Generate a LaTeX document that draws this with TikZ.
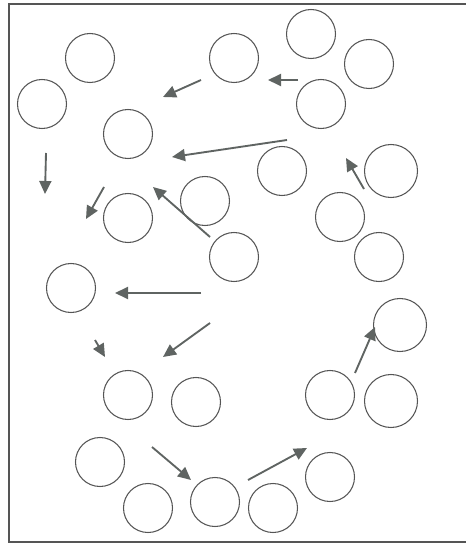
\documentclass[tikz,border=0pt]{standalone}
\usepackage{tikz}
\usetikzlibrary{arrows.meta}
\definecolor{InkGray}{RGB}{85, 85, 85}
\definecolor{ArrowGray}{RGB}{95, 100, 98}

\begin{document}
\begin{tikzpicture}[x=0.03cm, y=-0.03cm, ball/.style={circle, draw=InkGray, line width=0.9pt, minimum size=1.47cm, inner sep=0pt}, bigball/.style={ball, minimum size=1.59cm}, mv/.style={-{Triangle[length=3.9mm, width=3.6mm]}, ArrowGray, line width=1.6pt}]
\useasboundingbox (0,0) rectangle (465,545);
\draw[InkGray, line width=1.3pt] (466,4) -- (9,4) -- (9,542) -- (466,542);
\node[ball] (p1) at (90,58) {};
\node[ball] (p2) at (42,104) {};
\node[ball] (p3) at (234,58) {};
\node[ball] (p4) at (311,34) {};
\node[ball] (p5) at (369,64) {};
\node[ball] (p6) at (321,104) {};
\node[ball] (p7) at (128,134) {};
\node[ball] (p8) at (282,171) {};
\node[bigball] (p9) at (391,171) {};
\node[ball] (p10) at (205,201) {};
\node[ball] (p11) at (128,218) {};
\node[ball] (p12) at (340,217) {};
\node[ball] (p13) at (234,257) {};
\node[ball] (p14) at (379,257) {};
\node[ball] (p15) at (71,288) {};
\node[bigball] (p16) at (400,325) {};
\node[ball] (p17) at (128,395) {};
\node[ball] (p18) at (196,402) {};
\node[ball] (p19) at (330,395) {};
\node[bigball] (p20) at (391,401) {};
\node[ball] (p21) at (100,462) {};
\node[ball] (p22) at (148,508) {};
\node[ball] (p23) at (215,502) {};
\node[ball] (p24) at (273,508) {};
\node[ball] (p25) at (330,477) {};
% drift arrows
\draw[mv] (201,80) -- (163,97); \draw[mv] (298,80) -- (268,80); \draw[mv] (287,140) -- (172,157);
\draw[mv] (46,153) -- (45,194); \draw[mv] (104,187) -- (86,219); \draw[mv] (210,237) -- (153,187);
\draw[mv] (364,189) -- (346,158); \draw[mv] (201,293) -- (115,293); \draw[mv] (210,323) -- (163,357);
\draw[mv] (95,340) -- (105,357); \draw[mv] (355,373) -- (375,327);
\draw[mv] (152,447) -- (191,480); \draw[mv] (248,480) -- (307,448);
\end{tikzpicture}
\end{document}
